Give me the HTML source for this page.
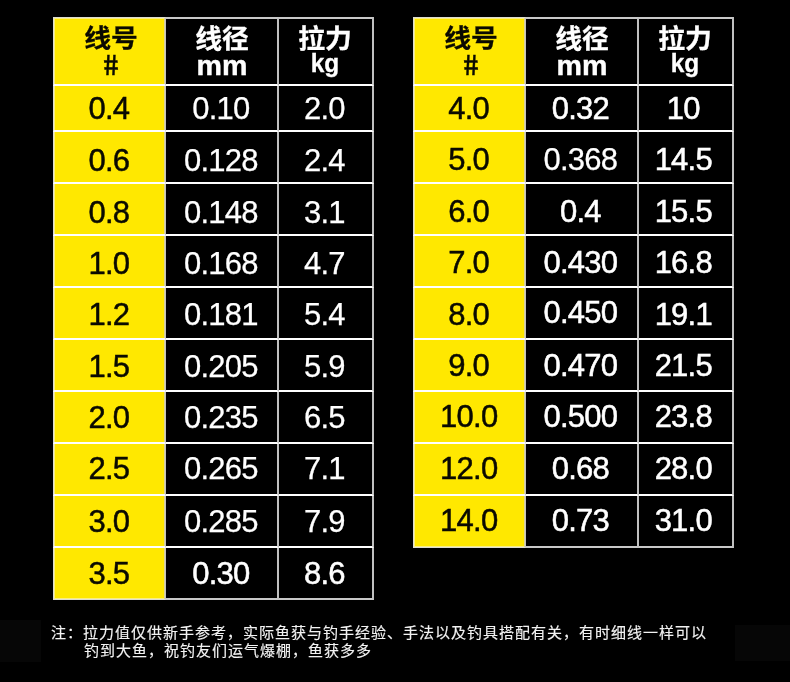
<!DOCTYPE html>
<html lang="zh-CN">
<head>
<meta charset="utf-8">
<title>线号 线径 拉力 对照表</title>
<style>
html,body{margin:0;padding:0;background:#000;}
body{width:790px;height:682px;position:relative;overflow:hidden;font-family:"Liberation Sans", "Noto Sans CJK SC", sans-serif;}

/* ---------- spec tables ---------- */
.chart{position:absolute;top:17px;width:321px;table-layout:fixed;border-collapse:separate;border-spacing:0;background:#000;color:#fff;}
.chart .c1{width:113px;}
.chart .c2{width:113px;}
.chart .c3{width:95px;}
.chart th,.chart td{box-sizing:border-box;margin:0;padding:0;text-align:center;white-space:nowrap;font-weight:normal;vertical-align:top;border:0 solid #c0c0c0;border-right-width:2px;border-bottom:2px solid #fff;}
.chart th{height:69px;position:relative;border-top:2px solid #c8c8c8;font-weight:bold;}
.chart td{height:52px;line-height:40px;font-size:31px;letter-spacing:-.75px;-webkit-text-stroke:.25px currentColor;padding-top:var(--pt);}
.chart tbody tr:first-child td{height:46px;}
.chart tbody tr:last-child td{border-bottom-color:#c8c8c8;}
/* yellow first column */
.chart .k{background:#ffe800;color:#0a0a00;border-left:1px solid #dcdcd2;border-right:1px solid #c4c4bc;box-shadow:inset 1px 0 0 #fbef80,inset -1px 0 0 #ddd49a;}
.chart th.k{border-top:1px solid #dcdcd2;box-shadow:inset 1px 0 0 #fbef80,inset -1px 0 0 #ddd49a,inset 0 1px 0 #fbef80;}
.chart td.k{-webkit-text-stroke:.5px currentColor;}
.chart tbody tr:last-child td.k{border-bottom:1px solid #dcdcd2;box-shadow:inset 1px 0 0 #fbef80,inset -1px 0 0 #ddd49a,inset 0 -1px 0 #fbef80;}
.chart td.m{-webkit-text-stroke:.52px currentColor;}
.chart td.up{padding-top:calc(var(--pt) - 2px);}
/* horizontal centring tweaks (text is not perfectly centred in the original) */
.t1 td:nth-child(1){padding-right:1.2px;}
.t1 td:nth-child(2){padding-right:1.2px;}
.t1 td:nth-child(3){padding-right:2.2px;}
.t2 td:nth-child(1){padding-right:1.6px;}
.t2 td:nth-child(2){padding-right:2.2px;}
.t2 td:nth-child(3){padding-right:4.4px;}
/* header labels */
.chart th span{position:absolute;width:200px;height:40px;line-height:40px;text-align:center;}
.chart .cn{font-size:26px;transform:scaleX(1.03);-webkit-text-stroke:.3px currentColor;}
.chart th.k .cn{transform:scale(1.03,.95);}
.chart .hash{font-size:29.5px;transform:scaleX(.9) skewX(9deg);-webkit-text-stroke:.45px currentColor;}
.chart .mm{font-size:27.5px;transform:scaleX(1.04);-webkit-text-stroke:.4px currentColor;}
.chart .kg{font-size:26px;transform:scaleX(.94);-webkit-text-stroke:.3px currentColor;}
.chart th:nth-child(1) .cn{left:-43.3px;top:-0.41px;}
.chart th:nth-child(2) .cn{left:-44.2px;top:-0.51px;}
.chart th:nth-child(3) .cn{left:-54px;top:-0.51px;}
.chart .hash{left:-43px;top:26.78px;}
.chart .mm{left:-44.1px;top:26.67px;}
.chart .kg{left:-53.9px;top:23.79px;}

/* ---------- footnote ---------- */
.note{position:absolute;left:51px;top:624.4px;margin:0;color:#f2f2f2;-webkit-text-stroke:.15px currentColor;font-size:15px;letter-spacing:1px;line-height:18px;white-space:nowrap;}
.note span{display:block;padding-left:33px;}
/* faint dark patches in the page corners */
.sh{position:absolute;background:#060606;}
</style>
</head>
<body>
<div class="sh" style="left:0;top:620px;width:41px;height:42px"></div>
<div class="sh" style="left:735px;top:625px;width:55px;height:36px"></div>
<table class="chart t1" style="left:53px">
<colgroup><col class="c1"><col class="c2"><col class="c3"></colgroup>
<thead><tr><th scope="col" class="k"><span class="cn">线号</span><span class="un hash">#</span></th><th scope="col"><span class="cn">线径</span><span class="un mm">mm</span></th><th scope="col"><span class="cn">拉力</span><span class="un kg">kg</span></th></tr></thead>
<tbody>
<tr style="--pt:3.26px"><td class="k">0.4</td><td>0.10</td><td>2.0</td></tr>
<tr style="--pt:9.26px"><td class="k">0.6</td><td>0.128</td><td>2.4</td></tr>
<tr style="--pt:9.26px"><td class="k">0.8</td><td>0.148</td><td>3.1</td></tr>
<tr style="--pt:8.26px"><td class="k">1.0</td><td>0.168</td><td>4.7</td></tr>
<tr style="--pt:7.26px"><td class="k">1.2</td><td>0.181</td><td>5.4</td></tr>
<tr style="--pt:7.26px"><td class="k">1.5</td><td>0.205</td><td>5.9</td></tr>
<tr style="--pt:6.26px"><td class="k">2.0</td><td>0.235</td><td>6.5</td></tr>
<tr style="--pt:5.26px"><td class="k">2.5</td><td>0.265</td><td>7.1</td></tr>
<tr style="--pt:6.26px"><td class="k">3.0</td><td>0.285</td><td>7.9</td></tr>
<tr style="--pt:6.26px"><td class="k">3.5</td><td class="m">0.30</td><td class="m">8.6</td></tr>
</tbody></table>
<table class="chart t2" style="left:413px">
<colgroup><col class="c1"><col class="c2"><col class="c3"></colgroup>
<thead><tr><th scope="col" class="k"><span class="cn">线号</span><span class="un hash">#</span></th><th scope="col"><span class="cn">线径</span><span class="un mm">mm</span></th><th scope="col"><span class="cn">拉力</span><span class="un kg">kg</span></th></tr></thead>
<tbody>
<tr style="--pt:3.26px"><td class="k">4.0</td><td class="m">0.32</td><td class="m">10</td></tr>
<tr style="--pt:8.26px"><td class="k">5.0</td><td>0.368</td><td class="m">14.5</td></tr>
<tr style="--pt:8.26px"><td class="k">6.0</td><td class="m">0.4</td><td class="m">15.5</td></tr>
<tr style="--pt:7.26px"><td class="k">7.0</td><td class="m">0.430</td><td class="m">16.8</td></tr>
<tr style="--pt:7.26px"><td class="k">8.0</td><td class="m up">0.450</td><td class="m">19.1</td></tr>
<tr style="--pt:6.26px"><td class="k">9.0</td><td class="m">0.470</td><td class="m">21.5</td></tr>
<tr style="--pt:5.26px"><td class="k">10.0</td><td class="m">0.500</td><td class="m">23.8</td></tr>
<tr style="--pt:5.26px"><td class="k">12.0</td><td class="m">0.68</td><td class="m">28.0</td></tr>
<tr style="--pt:5.26px"><td class="k">14.0</td><td class="m">0.73</td><td class="m">31.0</td></tr>
</tbody></table>
<p class="note">注：拉力值仅供新手参考，实际鱼获与钓手经验、手法以及钓具搭配有关，有时细线一样可以<span>钓到大鱼，祝钓友们运气爆棚，鱼获多多</span></p>
</body>
</html>
